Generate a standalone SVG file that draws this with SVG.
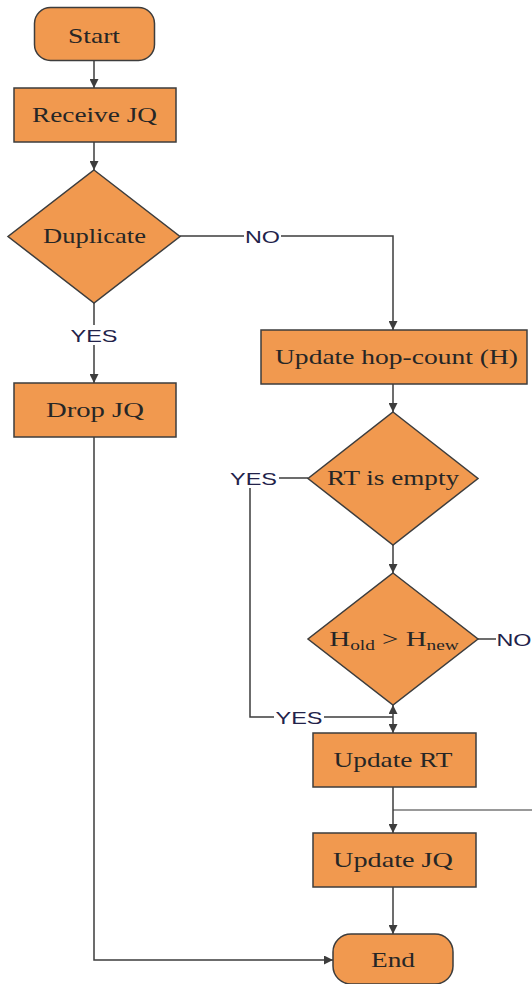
<svg xmlns="http://www.w3.org/2000/svg" width="532" height="984" viewBox="0 0 532 984">
<style>
.box{fill:#F1994F;stroke:#3d3d3d;stroke-width:1.5}
.t{font-family:"Liberation Serif","Times New Roman",serif;font-size:21px;fill:#262626;text-anchor:middle}
.lb{font-family:"Liberation Sans",Arial,sans-serif;font-size:17px;fill:#22224a;text-anchor:middle}
.ln{fill:none;stroke:#3d3d3d;stroke-width:1.5}
.lg{fill:none;stroke:#777;stroke-width:1.5}
.bg{fill:#fff}
</style>
<defs>
<marker id="ah" viewBox="0 0 10 10" refX="10" refY="5" markerWidth="6" markerHeight="6" orient="auto-start-reverse" markerUnits="strokeWidth">
<path d="M0,0 L10,5 L0,10 z" fill="#3d3d3d"/>
</marker>
</defs>
<rect width="532" height="984" fill="#fff"/>
<g id="connectors">
<path class="ln" d="M94,61 V88" marker-end="url(#ah)"/>
<path class="ln" d="M94,142 V170" marker-end="url(#ah)"/>
<path class="ln" d="M180,236 H393 V330" marker-end="url(#ah)"/>
<path class="ln" d="M94,303 V383" marker-end="url(#ah)"/>
<path class="ln" d="M94,437 V960 H333" marker-end="url(#ah)"/>
<path class="ln" d="M393,384 V412" marker-end="url(#ah)"/>
<path class="ln" d="M393,545 V573" marker-end="url(#ah)"/>
<path class="ln" d="M308,478 H250 V717 H393"/>
<path class="ln" d="M393,705 V733" marker-start="url(#ah)" marker-end="url(#ah)"/>
<path class="ln" d="M478,639 H532"/>
<path class="lg" d="M532,810 H393"/>
<path class="ln" d="M393,787 V833" marker-end="url(#ah)"/>
<path class="ln" d="M393,887 V934" marker-end="url(#ah)"/>
<rect class="bg" x="244" y="226" width="37" height="20"/>
<text class="lb" x="262.5" y="242.5" textLength="35" lengthAdjust="spacingAndGlyphs">NO</text>
<rect class="bg" x="69" y="325" width="50" height="20"/>
<text class="lb" x="94" y="341.5" textLength="47" lengthAdjust="spacingAndGlyphs">YES</text>
<rect class="bg" x="229" y="468" width="50" height="20"/>
<text class="lb" x="253.5" y="484.5" textLength="47" lengthAdjust="spacingAndGlyphs">YES</text>
<rect class="bg" x="274" y="707" width="50" height="20"/>
<text class="lb" x="299" y="723.5" textLength="47" lengthAdjust="spacingAndGlyphs">YES</text>
<rect class="bg" x="496" y="629" width="36" height="20"/>
<text class="lb" x="514" y="645.5" textLength="35" lengthAdjust="spacingAndGlyphs">NO</text>
</g>
<g id="start">
<rect class="box" x="34.5" y="7.5" width="120" height="53" rx="16"/>
<text class="t" x="94" y="43" textLength="52" lengthAdjust="spacingAndGlyphs">Start</text>
</g>
<g id="receive">
<rect class="box" x="14" y="88" width="162" height="54"/>
<text class="t" x="94.5" y="122" textLength="125" lengthAdjust="spacingAndGlyphs">Receive JQ</text>
</g>
<g id="duplicate">
<polygon class="box" points="94,170 180,236.5 94,303 8,236.5"/>
<text class="t" x="94.5" y="243" textLength="103" lengthAdjust="spacingAndGlyphs">Duplicate</text>
</g>
<g id="drop">
<rect class="box" x="14" y="383" width="162" height="54"/>
<text class="t" x="95" y="417" textLength="98" lengthAdjust="spacingAndGlyphs">Drop JQ</text>
</g>
<g id="hopcount">
<rect class="box" x="261" y="330" width="266" height="54"/>
<text class="t" x="396.5" y="364" textLength="243" lengthAdjust="spacingAndGlyphs">Update hop-count (H)</text>
</g>
<g id="rtempty">
<polygon class="box" points="393,412 478,478.5 393,545 308,478.5"/>
<text class="t" x="393" y="485" textLength="132" lengthAdjust="spacingAndGlyphs">RT is empty</text>
</g>
<g id="hcompare">
<polygon class="box" points="393,573 478,639 393,705 308,639"/>
<text class="t" transform="translate(394,646) scale(1.38,1)">H<tspan font-size="14" dy="4">old</tspan><tspan dy="-4"> &gt; H</tspan><tspan font-size="14" dy="4">new</tspan></text>
</g>
<g id="updatert">
<rect class="box" x="313" y="733" width="163" height="54"/>
<text class="t" x="393" y="767" textLength="119" lengthAdjust="spacingAndGlyphs">Update RT</text>
</g>
<g id="updatejq">
<rect class="box" x="313" y="833" width="163" height="54"/>
<text class="t" x="393" y="867" textLength="120" lengthAdjust="spacingAndGlyphs">Update JQ</text>
</g>
<g id="end">
<rect class="box" x="333" y="934" width="120" height="50" rx="18"/>
<text class="t" x="393" y="967" textLength="44" lengthAdjust="spacingAndGlyphs">End</text>
</g>
</svg>
